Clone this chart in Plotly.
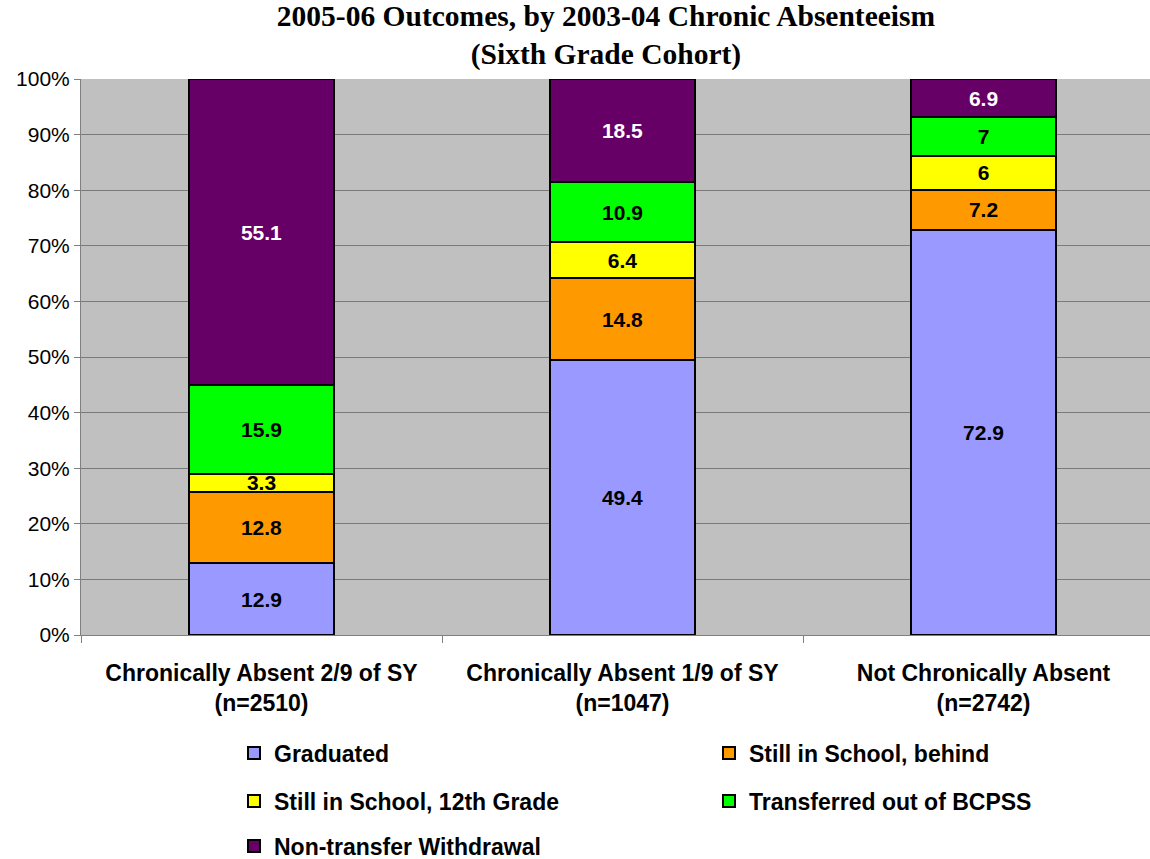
import plotly.graph_objects as go

categories = ["Chronically Absent 2/9 of SY<br>(n=2510)",
              "Chronically Absent 1/9 of SY<br>(n=1047)",
              "Not Chronically Absent<br>(n=2742)"]
series_names = ["Graduated", "Still in School, behind", "Still in School, 12th Grade",
                "Transferred out of BCPSS", "Non-transfer Withdrawal"]
graduated = [12.9, 49.4, 72.9]
still_behind = [12.8, 14.8, 7.2]
still_12th = [3.3, 6.4, 6.0]
transferred = [15.9, 10.9, 7.0]
withdrawal = [55.1, 18.5, 6.9]
label_text = [["12.9", "49.4", "72.9"], ["12.8", "14.8", "7.2"], ["3.3", "6.4", "6"],
              ["15.9", "10.9", "7"], ["55.1", "18.5", "6.9"]]
y_ticks = [0, 10, 20, 30, 40, 50, 60, 70, 80, 90, 100]
y_tick_text = ["0%", "10%", "20%", "30%", "40%", "50%", "60%", "70%", "80%", "90%", "100%"]

colors = ["#9999FF", "#FF9900", "#FFFF00", "#00FF00", "#660066"]
text_colors = ["black", "black", "black", "black", "white"]
legend_ids = ["legend", "legend", "legend2", "legend2", "legend3"]
values = [graduated, still_behind, still_12th, transferred, withdrawal]

SANS = "Liberation Sans, Arial, sans-serif"
fig = go.Figure()
for name, vals, col, tcol, txt, lg in zip(series_names, values, colors, text_colors, label_text, legend_ids):
    fig.add_trace(go.Bar(
        x=categories, y=vals, name=name, legend=lg,
        marker=dict(color=col, line=dict(color="black", width=2)),
        width=0.4,
        text=txt, textposition="inside", insidetextanchor="middle",
        textfont=dict(family=SANS, size=21, color=tcol, weight="bold"),
        constraintext="none", hoverinfo="skip",
    ))

legend_common = dict(orientation="h", xanchor="left", yanchor="middle",
                     font=dict(family=SANS, size=23, color="black", weight="bold"),
                     entrywidth=430, entrywidthmode="pixels",
                     bgcolor="rgba(0,0,0,0)", traceorder="normal")

fig.update_layout(
    width=1150, height=859,
    margin=dict(l=81, r=0, t=79, b=224, autoexpand=False),
    paper_bgcolor="white", plot_bgcolor="#C0C0C0",
    barmode="stack", bargap=0.6,
    uniformtext=dict(minsize=21, mode="show"),
    title=dict(text="2005-06 Outcomes, by 2003-04 Chronic Absenteeism<br>(Sixth Grade Cohort)",
               x=606 / 1150, xref="container", xanchor="center",
               y=1 - 26 / 859, yref="container", yanchor="middle",
               font=dict(family="Liberation Serif, Times New Roman, serif", size=29.5,
                         color="black", weight="bold")),
    xaxis=dict(type="category", range=[-0.5, -0.5 + 1069 / 361.0],
               tickson="boundaries", ticks="outside", ticklen=7, tickcolor="#808080",
               showline=True, linecolor="#808080", linewidth=1, showgrid=False,
               tickfont=dict(family=SANS, size=23, color="black", weight="bold"),
               ticklabelstandoff=17),
    yaxis=dict(range=[0, 100], tickmode="array", tickvals=y_ticks, ticktext=y_tick_text,
               ticks="outside", ticklen=6, tickcolor="#808080",
               showline=True, linecolor="#808080", linewidth=1,
               showgrid=True, gridcolor="#7a7a7a", gridwidth=1, zeroline=False,
               tickfont=dict(family=SANS, size=21, color="black")),
    legend=dict(x=(234 - 81) / 1069, y=(635 - 753) / 556, **legend_common),
    legend2=dict(x=(234 - 81) / 1069, y=(635 - 801) / 556, **legend_common),
    legend3=dict(x=(234 - 81) / 1069, y=(635 - 846) / 556, **legend_common),
)

fig.write_html("out.html", config={"displayModeBar": False},
               post_script="document.body.style.margin='0px';document.body.style.overflow='hidden';")
